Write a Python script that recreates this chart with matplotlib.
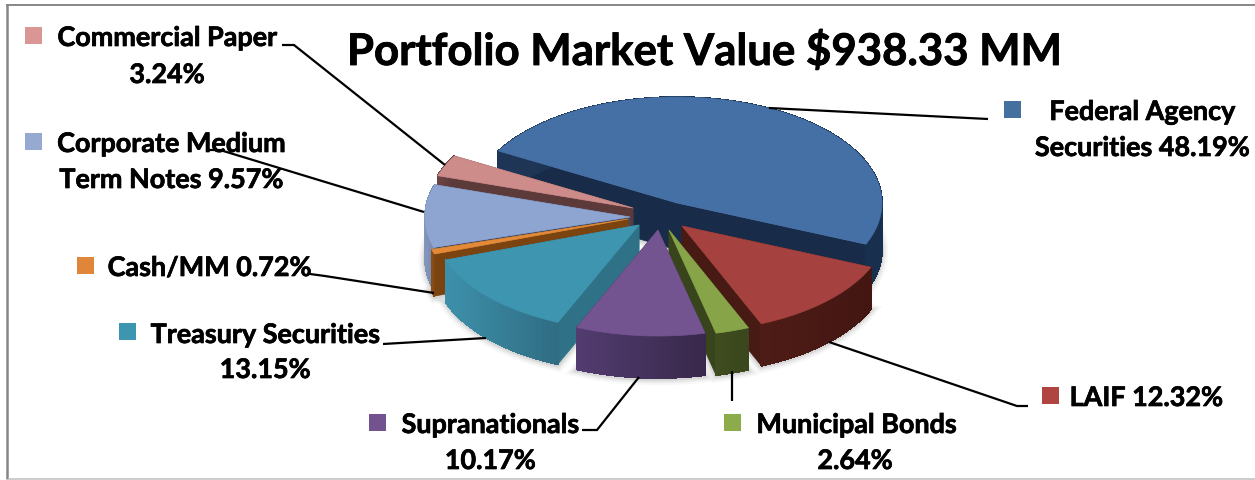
import numpy as np
import matplotlib
matplotlib.use('Agg')
import matplotlib.pyplot as plt
import matplotlib.patheffects as pe
from matplotlib.patches import Rectangle

title = 'Portfolio Market Value $938.33 MM'
names = ['Federal Agency Securities', 'LAIF', 'Municipal Bonds', 'Supranationals',
         'Treasury Securities', 'Cash/MM', 'Corporate Medium Term Notes', 'Commercial Paper']
values = [48.19, 12.32, 2.64, 10.17, 13.15, 0.72, 9.57, 3.24]

# layout is in pixels of the original picture
W, H = 1255, 480
start_angle = -150.6
a, b = 205, 106
apex = [(677, 203), (682, 226), (669, 230), (658, 230), (639, 225), (628, 219), (630, 217), (633, 208)]
depths = [47, 42, 42, 42, 42, 42, 42, 42]
tops = ['#4570A6', '#A5413F', '#87A548', '#735490', '#3E95B0', '#E28A38', '#8DA5D0', '#CD8C8A']
rim_l = ['#1E3555', '#4E1C16', '#3E4C20', '#523C70', '#3D90AA', '#8A4E14', '#8496BC', '#6E4444']
rim_r = ['#18304E', '#431612', '#3A461C', '#38284A', '#2F6C82', '#7A4310', '#6E82A8', '#5C3A3A']
cuts = ['#182C4A', '#481A14', '#38451C', '#3A2A4C', '#2F7288', '#7A4310', '#3F4A68', '#5C3A3A']
keys = ['#44709F', '#B04441', '#8CAC4B', '#73538F', '#3E95AF', '#DF8638', '#95A9D1', '#D99694']
draw_order = [0, 7, 6, 5, 4, 1, 2, 3]

plt.rcParams['font.family'] = ['Lato', 'DejaVu Sans']
fig = plt.figure(figsize=(W / 100, H / 100), dpi=100)
ax = fig.add_axes([0, 0, 1, 1])
ax.set_xlim(0, W)
ax.set_ylim(H, 0)
ax.axis('off')


def mix(c1, c2, f):
    return tuple(np.array(matplotlib.colors.to_rgb(c1)) * (1 - f) + np.array(matplotlib.colors.to_rgb(c2)) * f)


# frame: the picture is cropped so there is no right side and the bottom is faint
ax.plot([7, 7], [4, 479], color='#868686', lw=1.8, solid_capstyle='butt', zorder=0)
ax.plot([6, W], [5, 5], color='#868686', lw=1.4, solid_capstyle='butt', zorder=0)
ax.plot([8, W], [479.3, 479.3], color='#C4C4C4', lw=1.2, solid_capstyle='butt', zorder=0)

edges = start_angle + np.cumsum([0] + values) * 3.6
z = 2
for i in draw_order:
    cx, cy = apex[i]
    depth = depths[i]
    t = np.radians(np.linspace(edges[i], edges[i + 1], 60))
    x = cx + a * np.cos(t)
    y = cy + b * np.sin(t)
    px = np.r_[cx, x]
    py = np.r_[cy, y]

    # soft shadow under the slice
    for lw, alpha in [(9, 0.03), (6, 0.05), (3, 0.08)]:
        ax.fill(px, py + depth + 1, fc='none', ec=(0, 0, 0, alpha), lw=lw, zorder=1)

    # cut faces
    for ex, ey in [(x[0], y[0]), (x[-1], y[-1])]:
        ax.fill([cx, ex, ex, cx], [cy, ey, ey + depth, cy + depth],
                fc=cuts[i], ec=cuts[i], lw=0.5, zorder=z)
    z += 1
    # outer rim with gradient left to right, no antialiasing so the quads do not show seams
    span = max(x.max() - x.min(), 1)
    for k in range(len(t) - 1):
        f = (min(x[k], x[k + 1]) - x.min()) / span
        col = mix(rim_l[i], rim_r[i], f)
        ax.fill([x[k], x[k + 1], x[k + 1], x[k]],
                [y[k], y[k + 1], y[k + 1] + depth, y[k] + depth],
                fc=col, ec=col, lw=0.6, antialiased=False, zorder=z)
    z += 1
    ax.fill(px, py, fc=tops[i], ec=tops[i], lw=0.5, zorder=z)
    z += 1

ax.text(704, 51, title, ha='center', va='center', fontsize=31.5, fontweight='bold', color='black', zorder=50,
        path_effects=[pe.withStroke(linewidth=0.6, foreground='black')])

# leader lines
leaders = [
    [(769, 108), (988, 119)],
    [(829, 342), (1017, 406), (1028, 406)],
    [(732, 371), (732, 401)],
    [(639, 377), (597, 430), (582, 430)],
    [(486, 338), (383, 344)],
    [(434, 293), (325, 276), (310, 274)],
    [(424, 212), (220, 150), (207, 150)],
    [(445, 165), (294, 45), (282, 45)],
]
for pts in leaders:
    ax.plot([p[0] for p in pts], [p[1] for p in pts], color='black', lw=1.6, zorder=40,
            solid_capstyle='butt', solid_joinstyle='miter')

# legend squares and labels
key_pos = [(1004, 101), (1042, 387), (724, 414), (369, 414), (119, 323), (77, 257), (25, 133), (25, 27)]
for (kx, ky), c in zip(key_pos, keys):
    ax.add_patch(Rectangle((kx, ky), 17, 17, fc=c, ec='none', zorder=45))

labels = [
    ('Federal Agency', 1142, 112), (f'Securities {values[0]:.2f}%', 1142, 148),
    (f'{names[1]} {values[1]:.2f}%', 1146, 398),
    (names[2], 856, 425), (f'{values[2]:.2f}%', 855, 461),
    (names[3], 490, 425), (f'{values[3]:.2f}%', 490, 461),
    (names[4], 265, 335), (f'{values[4]:.2f}%', 265, 370),
    (f'{names[5]} {values[5]:.2f}%', 209, 268),
    ('Corporate Medium', 171, 144), (f'Term Notes {values[6]:.2f}%', 171, 180),
    (names[7], 167, 38), (f'{values[7]:.2f}%', 167, 75),
]
for s, lx, ly in labels:
    ax.text(lx, ly, s, ha='center', va='center', fontsize=19.4, fontweight='bold', color='black', zorder=46,
            path_effects=[pe.withStroke(linewidth=0.5, foreground='black')])

fig.savefig('out.png', dpi=100, facecolor='white')
